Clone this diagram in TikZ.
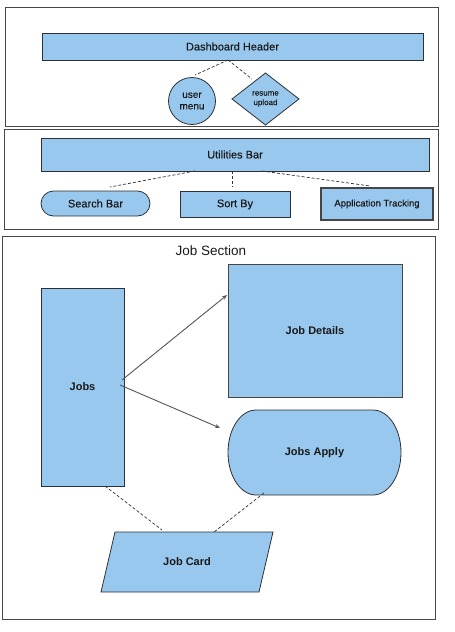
\documentclass[tikz,border=0pt]{standalone}
\usepackage{fontspec}
\setmainfont{Liberation Sans}
\newfontfamily\semib[FakeBold=0.25]{Liberation Sans}
\usetikzlibrary{shapes.geometric,calc,arrows.meta}
\definecolor{fillb}{RGB}{153,200,238}
\definecolor{edge}{RGB}{45,48,52}
\definecolor{frm}{RGB}{70,70,70}
\definecolor{arr}{RGB}{85,85,85}
\definecolor{txt}{RGB}{25,25,25}
\tikzset{
  box/.style={draw=edge, fill=fillb, line width=0.8pt, inner sep=0pt, outer sep=0pt, text=txt},
  ghost/.style={inner sep=0pt, outer sep=0pt},
  frame/.style={draw=frm, line width=0.9pt},
  dashline/.style={draw=edge, dashed, dash pattern=on 3pt off 2pt, line width=0.7pt},
  arrowline/.style={draw=arr, line width=0.9pt, -{Stealth[length=5pt,width=4pt]}},
  fs/.style={font=\fontsize{11}{13}\selectfont\semib},
  fsb/.style={font=\fontsize{11}{13}\selectfont\bfseries, text=txt},
}
\begin{document}
\begin{tikzpicture}[x=1pt,y=-1pt]
\useasboundingbox (0,0) rectangle (455,632);
% frames
\draw[frame] (5,7) rectangle (438,126);
\draw[frame] (4,129) rectangle (438,229);
\draw[frame] (2,236) rectangle (435,619);

% header section
\node[box, fs, minimum width=381pt, minimum height=27pt] (hdr) at (232.5,46.5) {Dashboard Header};
\node[box, circle, minimum size=47pt, align=center, font=\fontsize{10}{11.5}\selectfont\semib] (um) at (192,101) {user\\menu};
\node[box, diamond, aspect=1.29, minimum width=67pt, minimum height=52pt, align=center, font=\fontsize{8}{9.5}\selectfont\semib] (ru) at (265.5,99) {resume\\upload};
\draw[dashline] ($(hdr.south)+(-4.5,0)$) -- ($(um.center)+(3,-26)$);
\draw[dashline] ($(hdr.south)+(-4.5,0)$) -- ($(ru.center)+(-13.5,-20)$);

% utilities section
\node[box, fs, minimum width=388pt, minimum height=33pt] (ub) at (235,154.5) {Utilities Bar};
\node[box, fs, minimum width=109pt, minimum height=25pt, rounded corners=12.5pt] (sb) at (95.5,203.5) {Search Bar};
\node[box, fs, minimum width=110pt, minimum height=26pt] (sort) at (235,204.5) {Sort By};
\node[box, draw=frm, line width=1.2pt, font=\fontsize{9.5}{11}\selectfont\semib, minimum width=112pt, minimum height=32pt] (at) at (377,204) {Application Tracking};
\draw[dashline] ($(ub.south)+(-40,0)$) -- ($(sb.center)+(14.5,-16.5)$);
\draw[dashline] ($(ub.south)+(-3,0)$) -- ($(sort.center)+(-3,-17.5)$);
\draw[dashline] ($(ub.south)+(27,0)$) -- ($(at.center)+(-7,-18)$);

% job section
\node[font=\fontsize{13.5}{15}\selectfont, text=txt] (title) at (211,251) {Job Section};
\node[box, fsb, minimum width=83pt, minimum height=198pt] (jobs) at (82.5,387) {Jobs};
\node[box, fsb, draw=frm, minimum width=174pt, minimum height=133pt] (jd) at (315,330.5) {Job Details};
\node[ghost, minimum width=173pt, minimum height=85pt] (ja) at (314.5,452.5) {};
\draw[box] ($(ja.north west)+(28,0)$) -- ($(ja.north east)+(-28,0)$)
  .. controls +(15.5,0) and +(0,-23.5) .. (ja.east)
  .. controls +(0,23.5) and +(15.5,0) .. ($(ja.south east)+(-28,0)$)
  -- ($(ja.south west)+(28,0)$)
  .. controls +(-15.5,0) and +(0,23.5) .. (ja.west)
  .. controls +(0,-23.5) and +(-15.5,0) .. cycle;
\node[fsb] at (ja.center) {Jobs Apply};
\node[ghost, minimum width=158pt, minimum height=60pt] (jc) at (187,562) {};
\draw[box] ($(jc.north west)+(7,0)$) -- ($(jc.north east)+(7,0)$) -- ($(jc.south east)+(-7,0)$) -- ($(jc.south west)+(-7,0)$) -- cycle;
\node[fsb] at (jc.center) {Job Card};

\draw[arrowline] ($(jobs.center)+(39.5,-7)$) -- ($(jd.center)+(-88,-35.5)$);
\draw[arrowline] ($(jobs.center)+(37.5,-2)$) -- ($(ja.center)+(-94.5,-24.5)$);
\draw[dashline] ($(jobs.south)+(22.5,0)$) -- ($(jc.center)+(-25,-32)$);
\draw[dashline] ($(ja.center)+(-50.5,40.5)$) -- ($(jc.center)+(27,-30)$);
\end{tikzpicture}
\end{document}
